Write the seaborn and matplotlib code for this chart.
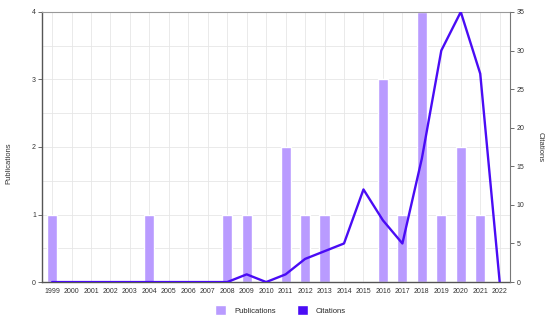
import pandas as pd
import matplotlib.pyplot as plt
import seaborn as sns
from matplotlib.patches import Patch

years = [str(y) for y in range(1999, 2023)]
publications = [1, 0, 0, 0, 0, 1, 0, 0, 0, 1, 1, 0, 2, 1, 1, 0, 0, 3, 1, 4, 1, 2, 1, 0]
citations = [0, 0, 0, 0, 0, 0, 0, 0, 0, 0, 1, 0, 1, 3, 4, 5, 12, 8, 5, 16, 30, 35, 27, 0]

bar_color = "#b99bff"
line_color = "#4a0cf5"

df = pd.DataFrame({"Year": years, "Publications": publications, "Citations": citations})

sns.set_style("white")
plt.rcParams["font.family"] = ["Liberation Sans", "DejaVu Sans"]

fig, ax = plt.subplots(figsize=(5.5, 3.22), dpi=100)
fig.subplots_adjust(left=0.077, right=0.928, top=0.963, bottom=0.124)

sns.barplot(data=df, x="Year", y="Publications", color=bar_color, width=0.52,
            saturation=1, ax=ax, zorder=2)
ax.set_xlim(-0.5, 23.55)
ax.set_ylim(0, 4)
ax.set_yticks([0, 1, 2, 3, 4])
ax.set_yticks([0.5, 1.5, 2.5, 3.5], minor=True)
ax.grid(True, which="both", axis="y", color="#e6e6e6", linewidth=0.6, zorder=0)
ax.grid(True, which="major", axis="x", color="#e6e6e6", linewidth=0.6, zorder=0)
ax.set_axisbelow(True)
ax.tick_params(axis="both", which="major", labelsize=5, length=3, width=0.6, pad=1.5,
               color="#555555", labelcolor="#333333")
ax.tick_params(axis="y", which="minor", length=0)
ax.set_xlabel("")
ax.set_ylabel("Publications", fontsize=5.5, color="#333333")
ax.yaxis.set_label_coords(-0.064, 0.44)
for side in ["left", "bottom"]:
    ax.spines[side].set_color("#555555")
    ax.spines[side].set_linewidth(1.0)
ax.spines["top"].set_color("#999999")
ax.spines["top"].set_linewidth(0.8)
ax.spines["right"].set_visible(False)

ax2 = ax.twinx()
sns.lineplot(data=df, x="Year", y="Citations", color=line_color, linewidth=1.7,
             ax=ax2, zorder=3)
ax2.set_ylim(0, 35)
ax2.set_yticks(range(0, 36, 5))
ax2.set_xlim(-0.5, 23.55)
ax2.tick_params(axis="y", labelsize=5, length=3, width=0.6, pad=1.5,
                color="#555555", labelcolor="#333333")
ax2.set_ylabel("Citations", fontsize=5.5, rotation=270, labelpad=14, color="#333333")
for side in ["left", "top", "bottom"]:
    ax2.spines[side].set_visible(False)
ax2.spines["right"].set_color("#777777")
ax2.spines["right"].set_linewidth(0.8)

handles = [Patch(facecolor=bar_color, label="Publications"),
           Patch(facecolor=line_color, label="Citations")]
fig.legend(handles=handles, loc="center", ncol=2, frameon=False, fontsize=5.5,
           bbox_to_anchor=(0.51, 0.037), handlelength=1.5, handleheight=1.6,
           handletextpad=1.0, columnspacing=2.8)

fig.savefig("out.png", dpi=100)
